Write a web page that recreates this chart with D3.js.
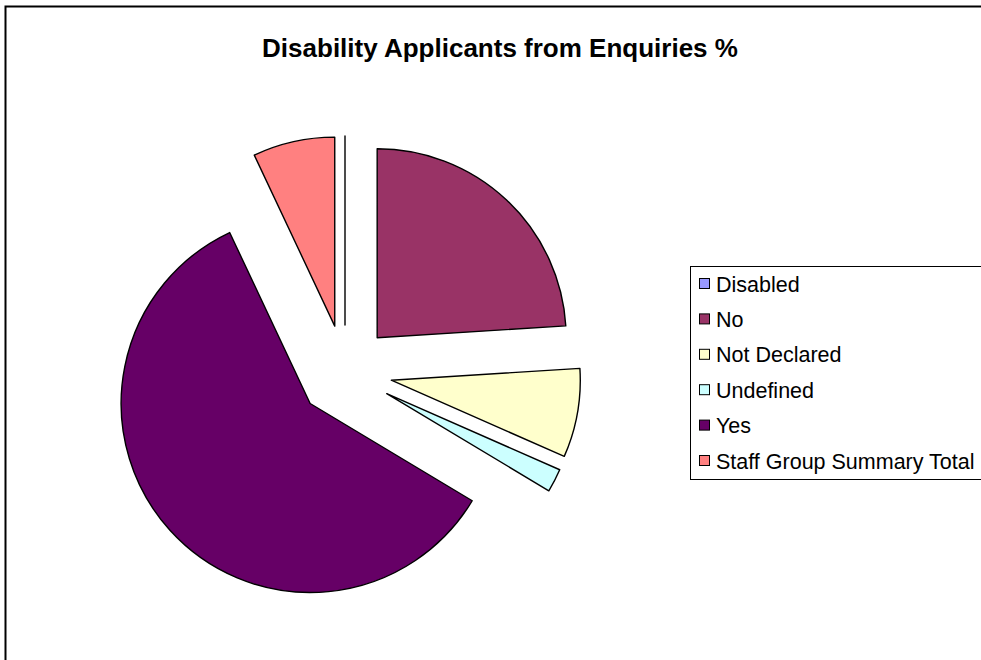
<!DOCTYPE html>
<html>
<head>
<meta charset="utf-8">
<script src="https://cdn.jsdelivr.net/npm/d3@7"></script>
<style>
  html, body { margin: 0; padding: 0; background: #fff; }
  svg { display: block; }
</style>
</head>
<body>
<svg id="chart" width="981" height="660"></svg>
<script>
const title = "Disability Applicants from Enquiries %";
const categories = ["Disabled", "No", "Not Declared", "Undefined", "Yes", "Staff Group Summary Total"];
const values = [0, 24.0, 7.6, 2.0, 59.4, 7.0];
const colors = ["#9999FF", "#993366", "#FFFFCC", "#CCFFFF", "#660066", "#FF8080"];

const svg = d3.select("#chart");

// outer chart border (extends beyond viewport on right/bottom)
svg.append("rect")
  .attr("x", 5.5).attr("y", 6.5)
  .attr("width", 1200).attr("height", 1000)
  .attr("fill", "#fff").attr("stroke", "#000").attr("stroke-width", 2);

// title
svg.append("text")
  .attr("x", 500).attr("y", 57)
  .attr("text-anchor", "middle")
  .attr("font-family", "Liberation Sans, Arial, sans-serif")
  .attr("font-weight", "bold")
  .attr("font-size", 26)
  .text(title);

// pie
const cx = 345, cy = 372, R = 189, explode = 47;
const pie = d3.pie().sort(null).value(d => d.value).startAngle(0).endAngle(2 * Math.PI);
const data = categories.map((c, i) => ({ name: c, value: values[i], color: colors[i] }));
const arcs = pie(data);
const arc = d3.arc().innerRadius(0).outerRadius(R);

const g = svg.append("g").attr("transform", `translate(${cx},${cy})`);
g.selectAll("path")
  .data(arcs)
  .join("path")
  .attr("transform", d => {
    const a = (d.startAngle + d.endAngle) / 2;
    return `translate(${explode * Math.sin(a)},${-explode * Math.cos(a)})`;
  })
  .attr("d", arc)
  .attr("fill", d => d.data.color)
  .attr("stroke", "#000")
  .attr("stroke-width", 1.4)
  .attr("stroke-linejoin", "round");

// legend
const lg = svg.append("g");
lg.append("rect")
  .attr("x", 690.5).attr("y", 266.5)
  .attr("width", 400).attr("height", 213)
  .attr("fill", "#fff").attr("stroke", "#000").attr("stroke-width", 1);

const rowY = d3.scalePoint().domain(categories).range([284, 461]);
const items = lg.selectAll("g.item").data(data).join("g").attr("class", "item")
  .attr("transform", d => `translate(0,${rowY(d.name)})`);
items.append("rect")
  .attr("x", 699.5).attr("y", -5.5)
  .attr("width", 10).attr("height", 10)
  .attr("fill", d => d.color)
  .attr("stroke", "#000").attr("stroke-width", 1);
items.append("text")
  .attr("x", 716).attr("y", 7.5)
  .attr("font-family", "Liberation Sans, Arial, sans-serif")
  .attr("font-size", 21.5)
  .text(d => d.name);
</script>
</body>
</html>
